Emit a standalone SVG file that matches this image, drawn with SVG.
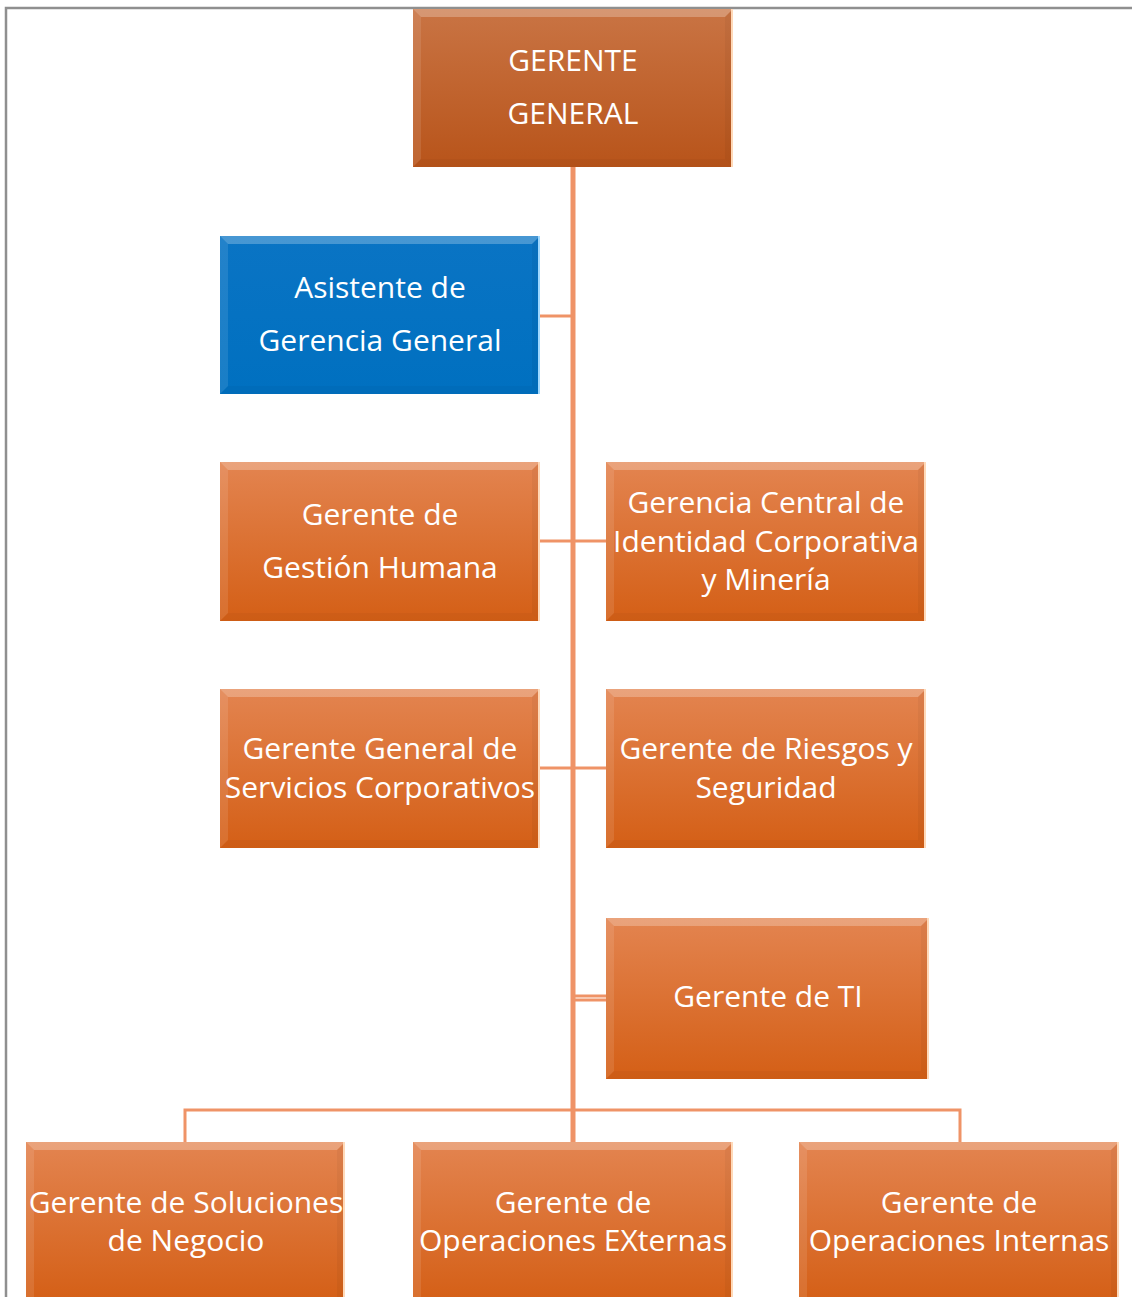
<svg xmlns="http://www.w3.org/2000/svg" width="1132" height="1297" viewBox="0 0 1132 1297">
<defs>
<linearGradient id="gOr" x1="0" y1="0" x2="0" y2="1">
<stop offset="0" stop-color="#e38450"/>
<stop offset="1" stop-color="#d45f16"/>
</linearGradient>
<linearGradient id="gDk" x1="0" y1="0" x2="0" y2="1">
<stop offset="0" stop-color="#c97444"/>
<stop offset="1" stop-color="#b8541a"/>
</linearGradient>
<linearGradient id="gBl" x1="0" y1="0" x2="0" y2="1">
<stop offset="0" stop-color="#0a74c4"/>
<stop offset="1" stop-color="#0070c0"/>
</linearGradient>
</defs>
<style>
.frame{stroke:#8f8f8f;stroke-width:2.5;fill:none}
.con{stroke:#ef9367;fill:none}
.trunk{stroke-width:5}
.br{stroke-width:3}
.bt{fill:#ffffff;fill-opacity:0.25}
.bl{fill:#ffffff;fill-opacity:0.1}
.brr{fill:#000000;fill-opacity:0.04}
.bb{fill:#000000;fill-opacity:0.03}
.edge{stroke:#ffd9b8;stroke-width:2;fill:none}
.edgeb{stroke:#9fd8ff;stroke-width:2;fill:none}
text{font-family:"Open Sans","Noto Sans","Liberation Sans",sans-serif;font-size:30px;fill:#ffffff;text-anchor:middle}
</style>
<path class="frame" d="M6,1297 V8 H1132"/>
<g id="connectors">
<line class="con trunk" x1="573" y1="167" x2="573" y2="1142"/>
<line class="con br" x1="540" y1="316" x2="573" y2="316"/>
<line class="con br" x1="540" y1="541" x2="606" y2="541"/>
<line class="con br" x1="540" y1="768" x2="606" y2="768"/>
<line class="con br" x1="573" y1="996" x2="606" y2="996"/>
<line class="con br" x1="573" y1="1000" x2="606" y2="1000"/>
<path class="con br" d="M185,1142 V1110 H960 V1142"/>
</g>
<g id="n_gg">
<rect x="413" y="9" width="320" height="158" fill="url(#gDk)"/>
<polygon class="bt" points="413,9 733,9 725,17 421,17"/>
<polygon class="bl" points="413,9 421,17 421,159 413,167"/>
<polygon class="brr" points="733,9 733,167 725,159 725,17"/>
<polygon class="bb" points="413,167 733,167 725,159 421,159"/>
<line class="edge" x1="732" y1="9" x2="732" y2="167"/>
<text x="573" y="71">GERENTE</text>
<text x="573" y="124">GENERAL</text>
</g>
<g id="n_asis">
<rect x="220" y="236" width="320" height="158" fill="url(#gBl)"/>
<polygon class="bt" points="220,236 540,236 532,244 228,244"/>
<polygon class="bl" points="220,236 228,244 228,386 220,394"/>
<polygon class="brr" points="540,236 540,394 532,386 532,244"/>
<polygon class="bb" points="220,394 540,394 532,386 228,386"/>
<line class="edgeb" x1="539" y1="236" x2="539" y2="394"/>
<text x="380" y="298">Asistente de</text>
<text x="380" y="351">Gerencia General</text>
</g>
<g id="n_gh">
<rect x="220" y="462" width="320" height="159" fill="url(#gOr)"/>
<polygon class="bt" points="220,462 540,462 532,470 228,470"/>
<polygon class="bl" points="220,462 228,470 228,613 220,621"/>
<polygon class="brr" points="540,462 540,621 532,613 532,470"/>
<polygon class="bb" points="220,621 540,621 532,613 228,613"/>
<line class="edge" x1="539" y1="462" x2="539" y2="621"/>
<text x="380" y="525">Gerente de</text>
<text x="380" y="578">Gestión Humana</text>
</g>
<g id="n_gc">
<rect x="606" y="462" width="320" height="159" fill="url(#gOr)"/>
<polygon class="bt" points="606,462 926,462 918,470 614,470"/>
<polygon class="bl" points="606,462 614,470 614,613 606,621"/>
<polygon class="brr" points="926,462 926,621 918,613 918,470"/>
<polygon class="bb" points="606,621 926,621 918,613 614,613"/>
<line class="edge" x1="925" y1="462" x2="925" y2="621"/>
<text x="766" y="513">Gerencia Central de</text>
<text x="766" y="552">Identidad Corporativa</text>
<text x="766" y="590">y Minería</text>
</g>
<g id="n_sc">
<rect x="220" y="689" width="320" height="159" fill="url(#gOr)"/>
<polygon class="bt" points="220,689 540,689 532,697 228,697"/>
<polygon class="bl" points="220,689 228,697 228,840 220,848"/>
<polygon class="brr" points="540,689 540,848 532,840 532,697"/>
<polygon class="bb" points="220,848 540,848 532,840 228,840"/>
<line class="edge" x1="539" y1="689" x2="539" y2="848"/>
<text x="380" y="759">Gerente General de</text>
<text x="380" y="798">Servicios Corporativos</text>
</g>
<g id="n_rs">
<rect x="606" y="689" width="320" height="159" fill="url(#gOr)"/>
<polygon class="bt" points="606,689 926,689 918,697 614,697"/>
<polygon class="bl" points="606,689 614,697 614,840 606,848"/>
<polygon class="brr" points="926,689 926,848 918,840 918,697"/>
<polygon class="bb" points="606,848 926,848 918,840 614,840"/>
<line class="edge" x1="925" y1="689" x2="925" y2="848"/>
<text x="766" y="759">Gerente de Riesgos y</text>
<text x="766" y="798">Seguridad</text>
</g>
<g id="n_ti">
<rect x="606" y="918" width="323" height="161" fill="url(#gOr)"/>
<polygon class="bt" points="606,918 929,918 921,926 614,926"/>
<polygon class="bl" points="606,918 614,926 614,1071 606,1079"/>
<polygon class="brr" points="929,918 929,1079 921,1071 921,926"/>
<polygon class="bb" points="606,1079 929,1079 921,1071 614,1071"/>
<line class="edge" x1="928" y1="918" x2="928" y2="1079"/>
<text x="768" y="1007">Gerente de TI</text>
</g>
<g id="n_sn">
<rect x="26" y="1142" width="319" height="160" fill="url(#gOr)"/>
<polygon class="bt" points="26,1142 345,1142 337,1150 34,1150"/>
<polygon class="bl" points="26,1142 34,1150 34,1302 26,1302"/>
<polygon class="brr" points="345,1142 345,1302 337,1302 337,1150"/>
<line class="edge" x1="344" y1="1142" x2="344" y2="1302"/>
<text x="186" y="1213">Gerente de Soluciones</text>
<text x="186" y="1251">de Negocio</text>
</g>
<g id="n_oe">
<rect x="413" y="1142" width="320" height="160" fill="url(#gOr)"/>
<polygon class="bt" points="413,1142 733,1142 725,1150 421,1150"/>
<polygon class="bl" points="413,1142 421,1150 421,1302 413,1302"/>
<polygon class="brr" points="733,1142 733,1302 725,1302 725,1150"/>
<line class="edge" x1="732" y1="1142" x2="732" y2="1302"/>
<text x="573" y="1213">Gerente de</text>
<text x="573" y="1251">Operaciones EXternas</text>
</g>
<g id="n_oi">
<rect x="799" y="1142" width="320" height="160" fill="url(#gOr)"/>
<polygon class="bt" points="799,1142 1119,1142 1111,1150 807,1150"/>
<polygon class="bl" points="799,1142 807,1150 807,1302 799,1302"/>
<polygon class="brr" points="1119,1142 1119,1302 1111,1302 1111,1150"/>
<line class="edge" x1="1118" y1="1142" x2="1118" y2="1302"/>
<text x="959" y="1213">Gerente de</text>
<text x="959" y="1251">Operaciones Internas</text>
</g>
</svg>
